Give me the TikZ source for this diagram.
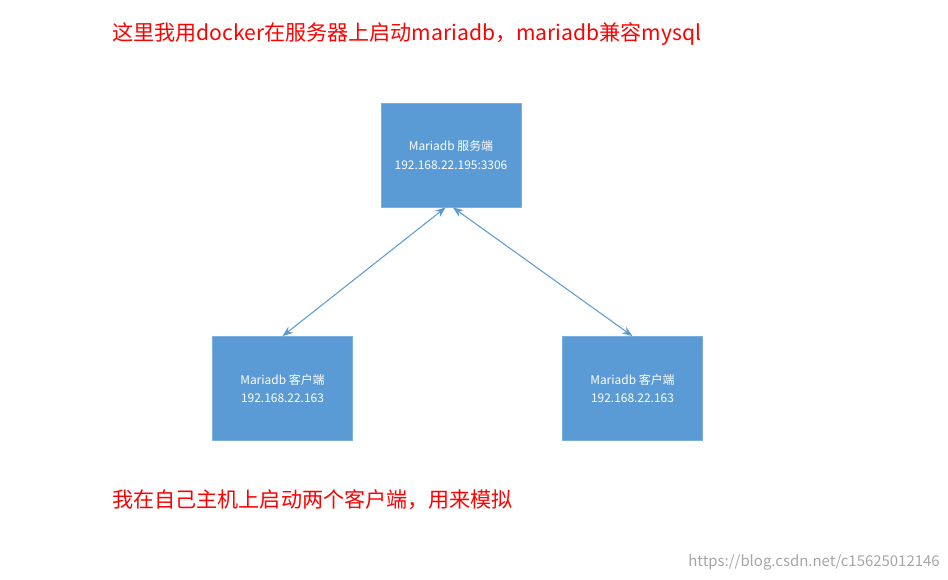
\documentclass[tikz,border=0pt]{standalone}
\usepackage{fontspec}
\setmainfont{Noto Sans CJK SC}
\usetikzlibrary{arrows.meta, positioning}
\definecolor{boxblue}{HTML}{5B9BD5}
\definecolor{linkblue}{HTML}{5B9BD5}
\tikzset{%
    dbbox/.style={fill=boxblue, draw=boxblue!80!white, minimum width=2.8cm, minimum height=2.08cm, align=center, text=white, font=\fontsize{6.8}{10.5}\selectfont, inner sep=0pt},
    link/.style={draw=linkblue, semithick, {Stealth[length=6pt]}-{Stealth[length=6pt]}},
    note/.style={text=red, anchor=west, font=\fontsize{12}{14}\selectfont, inner sep=0pt}
}
\begin{document}
\begin{tikzpicture}[x=0.02cm, y=-0.02cm]
    \useasboundingbox (0,0) rectangle (948,580);
    \node[note] (top) at (112,34) {这里我用docker在服务器上启动mariadb，mariadb兼容mysql};
    \node[dbbox] (server) at (451,155) {Mariadb 服务端\\192.168.22.195:3306};
    \node[dbbox] (clienta) at (282.5,388.5) {Mariadb 客户端\\192.168.22.163};
    \node[dbbox] (clientb) at (632.5,388.5) {Mariadb 客户端\\192.168.22.163};
    \draw[link] ([xshift=-3pt]server.south) -- (clienta.north);
    \draw[link] ([xshift=1pt]server.south) -- (clientb.north);
    \node[note] (bottom) at (112,500) {我在自己主机上启动两个客户端，用来模拟};
    \node[anchor=east, text=gray!70, font=\fontsize{8.5}{10}\selectfont, inner sep=0pt] (mark) at (940,562) {https://blog.csdn.net/c15625012146};
\end{tikzpicture}
\end{document}
